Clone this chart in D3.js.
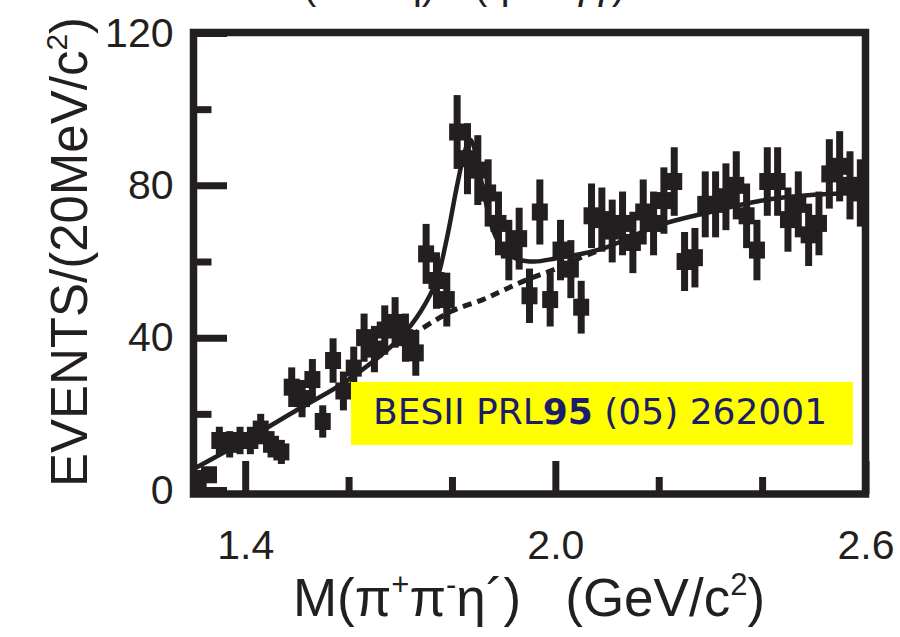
<!DOCTYPE html>
<html>
<head>
<meta charset="utf-8">
<script src="https://cdn.jsdelivr.net/npm/d3@7"></script>
<style>
  body { margin: 0; background: #ffffff; }
  svg { display: block; }
</style>
</head>
<body>
<svg id="chart" width="900" height="637"></svg>
<script>
// Bin centres of the pi+ pi- eta' invariant-mass histogram (GeV/c^2), 20 MeV bins
const binCenters = [
  1.31, 1.33, 1.35, 1.37, 1.39, 1.41, 1.43, 1.45, 1.47, 1.49,
  1.51, 1.53, 1.55, 1.57, 1.59, 1.61, 1.63, 1.65, 1.67, 1.69,
  1.71, 1.73, 1.75, 1.77, 1.79, 1.81, 1.83, 1.85, 1.87, 1.89,
  1.91, 1.93, 1.95, 1.97, 1.99, 2.01, 2.03, 2.05, 2.07, 2.09,
  2.11, 2.13, 2.15, 2.17, 2.19, 2.21, 2.23, 2.25, 2.27, 2.29,
  2.31, 2.33, 2.35, 2.37, 2.39, 2.41, 2.43, 2.45, 2.47, 2.49,
  2.51, 2.53, 2.55, 2.57, 2.59
];

// Events per bin
const events = [
  3, 4, 13, 12, 13, 13, 16, 12, 10, 27,
  24, 29, 18, 34, 26, 32, 40, 37, 42, 44,
  40, 36, 62, 55, 50, 94, 87, 84, 78, 70,
  63, 66, 51, 73, 50, 63, 58, 48, 72, 71,
  68, 70, 65, 73, 70, 76, 81, 60, 61, 75,
  75, 77, 80, 72, 63, 81, 81, 71, 75, 67,
  70, 83, 85, 80, 78
];

// Full fit (resonance + background), sampled along the mass axis
const fitMass  = [1.30, 1.40, 1.50, 1.60, 1.70, 1.74, 1.77, 1.79, 1.81, 1.825, 1.835, 1.845, 1.86, 1.88, 1.90, 1.93, 1.96, 2.00, 2.05, 2.10, 2.20, 2.30, 2.40, 2.50, 2.60];
const fitTotal = [5.5, 13, 21, 29, 40, 47, 55, 66, 80, 89, 92, 89, 79, 68, 63, 60.5, 60, 60.8, 62, 63.8, 69.5, 73, 76, 77.5, 78];

// Background-only component under the peak
const bkgMass  = [1.72, 1.80, 1.86, 1.90, 1.95, 2.00, 2.04, 2.09];
const bkgValue = [40.5, 47, 50, 52.5, 55.5, 58, 60.5, 63.2];

const xMajorTicks = [1.4, 2.0, 2.6];
const xMinorTicks = [1.6, 1.8, 2.2, 2.4];
const yMajorTicks = [0, 40, 80, 120];
const yMinorTicks = [20, 60, 100];

const ink = "#231f20";
const sansFont = "'Liberation Sans', Arial, Helvetica, sans-serif";

const svg = d3.select("#chart");

const x = d3.scaleLinear().domain([1.3, 2.6]).range([193.5, 865.5]);
const y = d3.scaleLinear().domain([0, 120]).range([490, 33]);

const frameLeft = 193.5, frameRight = 865.5, frameTop = 32.5, frameBottom = 494;

// Heading above the plot, running off the top edge
const heading = svg.append("g")
  .attr("font-family", sansFont)
  .attr("font-size", 40)
  .attr("fill", ink);
heading.append("text").attr("x", 303).attr("y", -1).text("(π⁺π⁻η)");
heading.append("text").attr("x", 474).attr("y", -1).text("(η → γγ)");

// Fit curves
const line = d3.line()
  .x(d => x(d[0]))
  .y(d => y(d[1]))
  .curve(d3.curveCatmullRom.alpha(0.5));

svg.append("path")
  .datum(bkgMass.map((m, i) => [m, bkgValue[i]]))
  .attr("d", line)
  .attr("fill", "none")
  .attr("stroke", ink)
  .attr("stroke-width", 5)
  .attr("stroke-dasharray", "9,6");

svg.append("path")
  .datum(fitMass.map((m, i) => [m, fitTotal[i]]))
  .attr("d", line)
  .attr("fill", "none")
  .attr("stroke", ink)
  .attr("stroke-width", 4.5);

// Data points: thick Poisson error bars with a square marker
const pts = svg.append("g").attr("fill", ink);
const data = binCenters.map((m, i) => ({ m, n: events[i] }));

pts.selectAll("rect.err")
  .data(data)
  .join("rect")
  .attr("class", "err")
  .attr("x", d => x(d.m) - 3.5)
  .attr("width", 7)
  .attr("y", d => y(d.n + Math.sqrt(d.n)))
  .attr("height", d => y(d.n - Math.sqrt(d.n)) - y(d.n + Math.sqrt(d.n)));

pts.selectAll("rect.box")
  .data(data)
  .join("rect")
  .attr("class", "box")
  .attr("x", d => x(d.m) - 8)
  .attr("width", 16)
  .attr("y", d => y(d.n) - 8.5)
  .attr("height", 17);

// Axes with inward ticks
function styleAxis(g) {
  g.select(".domain").remove();
  g.selectAll(".tick line").attr("stroke", ink).attr("stroke-width", 7);
  g.selectAll(".tick text")
    .attr("fill", ink)
    .attr("font-family", sansFont)
    .attr("font-size", 41);
}

svg.append("g")
  .attr("transform", `translate(${frameLeft},0)`)
  .call(d3.axisLeft(y).tickValues(yMinorTicks).tickSizeInner(-18).tickSizeOuter(0).tickFormat(""))
  .call(styleAxis);

svg.append("g")
  .attr("transform", `translate(${frameLeft},0)`)
  .call(d3.axisLeft(y).tickValues(yMajorTicks).tickSizeInner(-33.5).tickSizeOuter(0).tickPadding(20).tickFormat(d3.format("d")))
  .call(styleAxis);

svg.append("g")
  .attr("transform", `translate(0,${frameBottom})`)
  .call(d3.axisBottom(x).tickValues(xMinorTicks).tickSizeInner(-17).tickSizeOuter(0).tickFormat(""))
  .call(styleAxis);

svg.append("g")
  .attr("transform", `translate(0,${frameBottom})`)
  .call(d3.axisBottom(x).tickValues(xMajorTicks).tickSizeInner(-33).tickSizeOuter(0).tickPadding(36).tickFormat(d3.format(".1f")))
  .call(styleAxis);

// Plot frame
svg.append("rect")
  .attr("x", frameLeft)
  .attr("y", frameTop)
  .attr("width", frameRight - frameLeft)
  .attr("height", frameBottom - frameTop)
  .attr("fill", "none")
  .attr("stroke", ink)
  .attr("stroke-width", 7.5);

// Axis titles
const xTitle = svg.append("text")
  .attr("x", 529)
  .attr("y", 616)
  .attr("text-anchor", "middle")
  .attr("font-family", sansFont)
  .attr("font-size", 53)
  .attr("fill", ink);
xTitle.append("tspan").text("M(π");
xTitle.append("tspan").attr("font-size", 31).attr("dy", -21).text("+");
xTitle.append("tspan").attr("dy", 21).text("π");
xTitle.append("tspan").attr("font-size", 31).attr("dy", -21).text("-");
xTitle.append("tspan").attr("dy", 21).text("η´)\u00a0\u00a0\u00a0(GeV/c");
xTitle.append("tspan").attr("font-size", 31).attr("dy", -21).text("2");
xTitle.append("tspan").attr("dy", 21).text(")");

const yTitle = svg.append("text")
  .attr("transform", "translate(87,252) rotate(-90)")
  .attr("text-anchor", "middle")
  .attr("font-family", sansFont)
  .attr("font-size", 51)
  .attr("fill", ink);
yTitle.append("tspan").text("EVENTS/(20MeV/c");
yTitle.append("tspan").attr("font-size", 30).attr("dy", -20).text("2");
yTitle.append("tspan").attr("dy", 20).text(")");

// Reference label
const badge = svg.append("g");
badge.append("rect")
  .attr("x", 351)
  .attr("y", 382)
  .attr("width", 502)
  .attr("height", 63)
  .attr("fill", "#ffff00");
const badgeText = badge.append("text")
  .attr("x", 373)
  .attr("y", 424)
  .attr("font-family", "'DejaVu Sans', sans-serif")
  .attr("font-size", 36)
  .attr("fill", "#1c1c6c");
badgeText.append("tspan").text("BESII PRL");
badgeText.append("tspan").attr("font-weight", "bold").text("95");
badgeText.append("tspan").text(" (05) 262001");
</script>
</body>
</html>
